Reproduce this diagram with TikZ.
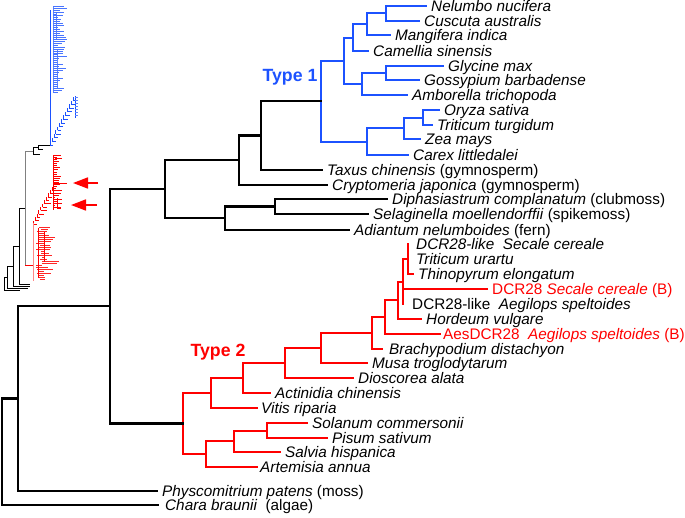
\documentclass[tikz,border=0pt]{standalone}
\usepackage{fontspec}
\setmainfont{Liberation Sans}
\usepackage{xcolor}
\usepackage{tikz}
\usetikzlibrary{arrows.meta}

\definecolor{typeone}{RGB}{28,82,255}
\definecolor{typetwo}{RGB}{255,0,0}
\definecolor{typetwopale}{RGB}{255,135,135}

\begin{document}
\begin{tikzpicture}[x=1pt, y=-1pt]
\tikzstyle{leaf} = [anchor=west, inner xsep=5pt, inner ysep=0pt, text height=11pt, text depth=0pt, font=\fontsize{15.3}{17}\selectfont\itshape]
\tikzstyle{branch} = [line width=2.1pt, line cap=rect]
\tikzstyle{blueline} = [branch, typeone, line width=2pt]
\tikzstyle{redline} = [branch, typetwo, line width=2pt]
\tikzstyle{typelabel} = [font=\fontsize{17.7}{20}\selectfont\bfseries]
\tikzstyle{twig} = [line width=0.6pt]
\tikzstyle{pointer} = [typetwo, line width=1.7pt, -{Triangle[length=15pt, width=11pt]}]

\useasboundingbox (0,0) rectangle (685,517);

% overview tree
\pgfmathsetseed{11}
\draw[typeone, line width=1pt] (50,146) -- (50,10);
\draw[twig, typeone!70] (53,7) -- (53,93) (56,12) -- (56,40) (57,50) -- (57,88);
\foreach \i in {0,...,44} {
  \pgfmathsetmacro\yy{6+\i*1.95}
  \pgfmathsetmacro\xb{56+12*rnd}
  \draw[twig, typeone!80] (53,\yy) -- (\xb,\yy);
}
\foreach \i in {0,...,12} {
  \pgfmathsetmacro\yy{145-\i*3.7}
  \pgfmathsetmacro\xx{50+\i*1.9}
  \pgfmathsetmacro\ll{3+3*rnd}
  \draw[twig, typeone] (\xx,\yy) -- ++(0,-3.7) (\xx,\yy) -- ++(\ll,0);
}
\draw[twig, typeone] (75,96) -- (75,118);
\foreach \yy in {97,100,...,117} \draw[twig, typeone!70] (75,\yy) -- (77.5,\yy);

\draw[gray, line width=1pt] (33,151) -- (25,151) -- (25,265);
\draw[line width=0.8pt] (33,151) |- (38,147) (33,151) |- (40,154) (38,147) |- (50,145) (38,147) |- (43,149.5);

\draw[typetwo, line width=1pt] (53,155) -- (53,210);
\foreach \i in {0,...,25} {
  \pgfmathsetmacro\yy{155+\i*2.1}
  \pgfmathsetmacro\xb{55+8*rnd}
  \draw[twig, typetwo] (53,\yy) -- (\xb,\yy);
}
\draw[twig, typetwo] (53,183) -- (67,183) (55,158) -- (62,158) (57,198) |- (62,203) (57,198) |- (61,208);
\foreach \i in {0,...,10} {
  \pgfmathsetmacro\yy{224-\i*3.4}
  \pgfmathsetmacro\xx{33+\i*1.9}
  \pgfmathsetmacro\ll{3+4*rnd}
  \draw[twig, typetwo] (\xx,\yy) -- ++(0,-3.4) (\xx,\yy) -- ++(\ll,0);
}
\draw[typetwopale, line width=1pt] (33,223) -- (33,281);
\draw[typetwo, line width=1pt] (25,265) -- (33,265);
\foreach \i in {0,...,26} {
  \pgfmathsetmacro\yy{227+\i*2}
  \pgfmathsetmacro\xa{36+6*rnd}
  \pgfmathsetmacro\xb{\xa+3+14*rnd}
  \draw[twig, typetwo!85] (\xa,\yy) -- (\xb,\yy);
}
\draw[twig, typetwo] (38,228) -- (38,278) (44,232) -- (44,262);

\draw[line width=0.8pt] (25,208) -| (19,284) -- (30,284);
\draw[line width=0.8pt] (19,246) -| (13,286) -- (30,286);
\draw[line width=0.8pt] (13,266) -| (7,288) -- (28,288);
\draw[line width=0.8pt] (7,277) -| (4,290) -- (20,290);

\coordinate (arr1) at (98,183);
\coordinate (arr2) at (97,205);
\coordinate (tip1) at (73,183);
\coordinate (tip2) at (71,205);
\draw[pointer] (arr1) -- (tip1);
\draw[pointer] (arr2) -- (tip2);

% leaves
\node[leaf] (nel) at (426,5.5) {Nelumbo nucifera};
\node[leaf] (cus) at (419,21) {Cuscuta australis};
\node[leaf] (man) at (390,35) {Mangifera indica};
\node[leaf] (cam) at (368,51) {Camellia sinensis};
\node[leaf] (gly) at (443,66) {Glycine max};
\node[leaf] (gos) at (419,80) {Gossypium barbadense};
\node[leaf] (amb) at (407,95) {Amborella trichopoda};
\node[leaf] (ory) at (439,110) {Oryza sativa};
\node[leaf] (ttu) at (432,125) {Triticum turgidum};
\node[leaf] (zea) at (420,139) {Zea mays};
\node[leaf] (car) at (408,155) {Carex littledalei};
\node[leaf] (tax) at (322,170) {Taxus chinensis \textup{(gymnosperm)}};
\node[leaf] (cry) at (327,185) {Cryptomeria japonica \textup{(gymnosperm)}};
\node[leaf] (dip) at (387,199) {Diphasiastrum complanatum \textup{(clubmoss)}};
\node[leaf] (sel) at (368,214) {Selaginella moellendorffii \textup{(spikemoss)}};
\node[leaf] (adi) at (349,230) {Adiantum nelumboides \textup{(fern)}};
\node[leaf, inner xsep=8pt] (secl) at (408,244) {DCR28-like\ \ Secale cereale};
\node[leaf, inner xsep=8pt] (tur) at (408,259) {Triticum urartu};
\node[leaf] (thi) at (413,274) {Thinopyrum elongatum};
\node[leaf, text=typetwo] (secb) at (487,289) {\textup{DCR28} Secale cereale \textup{(B)}};
\node[leaf, inner xsep=9pt] (aegl) at (403,304) {\textup{DCR28-like}\ \ Aegilops speltoides};
\node[leaf] (hor) at (421,319) {Hordeum vulgare};
\node[leaf, inner xsep=3pt, text=typetwo] (aes) at (440,334) {\textup{AesDCR28}\ \ Aegilops speltoides \textup{(B)}};
\node[leaf, inner xsep=7pt] (bra) at (382,349) {Brachypodium distachyon};
\node[leaf] (mus) at (367,363) {Musa troglodytarum};
\node[leaf] (dio) at (353,378) {Dioscorea alata};
\node[leaf] (act) at (270,393) {Actinidia chinensis};
\node[leaf, inner xsep=4pt] (vit) at (257,408) {Vitis riparia};
\node[leaf] (sol) at (307,423) {Solanum commersonii};
\node[leaf] (pis) at (327,438) {Pisum sativum};
\node[leaf] (sal) at (280,452) {Salvia hispanica};
\node[leaf, inner xsep=3pt] (art) at (257,467) {Artemisia annua};
\node[leaf] (phy) at (157,491) {Physcomitrium patens \textup{(moss)}};
\node[leaf, inner xsep=7pt] (cha) at (158,505) {Chara braunii\ \ \textup{(algae)}};

% internal nodes
\coordinate (n1) at (386,13.25);
\coordinate (n2) at (367,24);
\coordinate (n3) at (353,37.5);
\coordinate (n4) at (386,73);
\coordinate (n5) at (362,84);
\coordinate (n6) at (344,60.75);
\coordinate (n7) at (423,117.5);
\coordinate (n8) at (404,128);
\coordinate (n9) at (367,141.5);
\coordinate (t1) at (321,101);
\coordinate (n10) at (261,135.5);
\coordinate (n11) at (239,160);
\coordinate (n12) at (275,206.5);
\coordinate (n13) at (225,218);
\coordinate (n14) at (165,189);
\coordinate (m1) at (408,259);
\coordinate (m2) at (403,281.5);
\coordinate (m3) at (398,300);
\coordinate (m4) at (385,317);
\coordinate (m5) at (372,333);
\coordinate (m6) at (321,348);
\coordinate (m7) at (285,363);
\coordinate (m8) at (243,378);
\coordinate (m9) at (211,393);
\coordinate (s1) at (267,430.5);
\coordinate (s2) at (234,441);
\coordinate (s3) at (206,454);
\coordinate (t2) at (183,423.5);
\coordinate (n15) at (110,306);
\coordinate (n16) at (18,398.5);
\coordinate (root) at (2,452);

\node[typelabel, text=typeone] (type1) at (290,77) {Type 1};
\node[typelabel, text=typetwo] (type2) at (218,352) {Type 2};

% Type 1
\draw[blueline] (nel.west) -| (n1) |- (cus.west);
\draw[blueline] (n1) -| (n2) |- (man.west);
\draw[blueline] (n2) -| (n3) |- (cam.west);
\draw[blueline] (gly.west) -| (n4) |- (gos.west);
\draw[blueline] (n4) -| (n5) |- (amb.west);
\draw[blueline] (n3) -| (n6) |- (n5);
\draw[blueline] (ory.west) -| (n7) |- (ttu.west);
\draw[blueline] (n7) -| (n8) |- (zea.west);
\draw[blueline] (n8) -| (n9) |- (car.west);
\draw[blueline] (n6) -| (t1) |- (n9);

% Type 2
\draw[redline] (secl.west) -- (m1) |- (thi.west);
\draw[redline] (m1) -| (m2) |- (secb.west) (m2) |- (aegl.west);
\draw[redline] (m2) -| (m3) |- (hor.west);
\draw[redline] (m3) -| (m4) |- (aes.west);
\draw[redline] (m4) -| (m5) |- (bra.west);
\draw[redline] (m5) -| (m6) |- (mus.west);
\draw[redline] (m6) -| (m7) |- (dio.west);
\draw[redline] (m7) -| (m8) |- (act.west);
\draw[redline] (m8) -| (m9) |- (vit.west);
\draw[redline] (sol.west) -| (s1) |- (pis.west);
\draw[redline] (s1) -| (s2) |- (sal.west);
\draw[redline] (s2) -| (s3) |- (art.west);
\draw[redline] (m9) -| (t2) |- (s3);

% backbone
\draw[branch] (t1) -| (n10) |- (tax.west);
\draw[branch] (n10) -| (n11) |- (cry.west);
\draw[branch] (dip.west) -| (n12) |- (sel.west);
\draw[branch] (n12) -| (n13) |- (adi.west);
\draw[branch] (n11) -| (n14) |- (n13);
\draw[branch] (n14) -| (n15) |- (t2);
\draw[branch] (n15) -| (n16) |- (phy.west);
\draw[branch] (n16) -| (root) |- (cha.west);

\end{tikzpicture}
\end{document}
